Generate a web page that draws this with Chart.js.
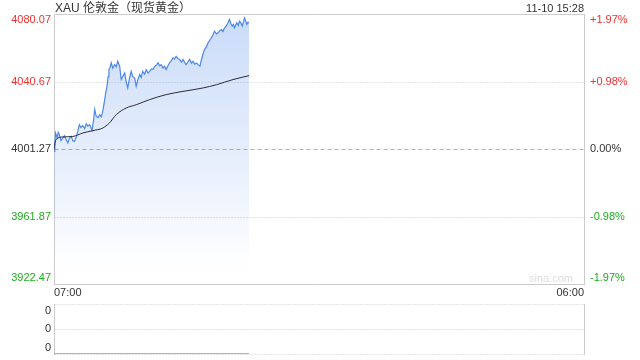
<!DOCTYPE html>
<html>
<head>
<meta charset="utf-8">
<script src="https://cdn.jsdelivr.net/npm/chart.js@4/dist/chart.umd.min.js"></script>
<style>
body { margin: 0; background: #fff; }
#wrap { position: relative; width: 640px; height: 360px; }
#wrap canvas { position: absolute; left: 0; top: 0; }
</style>
</head>
<body>
<div id="wrap">
    <canvas id="priceChart" width="640" height="360"></canvas>
    <canvas id="volChart" width="640" height="360"></canvas>
</div>
<script>
const titleText = 'XAU 伦敦金（现货黄金）';
const stampText = '11-10 15:28';
const timeLabels = ['07:00', '06:00'];
const priceTicks = [4080.07, 4040.67, 4001.27, 3961.87, 3922.47];
const pctTicks = ['+1.97%', '+0.98%', '0.00%', '-0.98%', '-1.97%'];
const volTicks = ['0', '0', '0'];

// minutes after 07:00, 16 per row
const priceMinutes = [
    0, 2, 4, 8, 11, 14, 18, 23, 27, 32, 36, 40, 45, 49, 53, 58,
    62, 66, 70, 75, 80, 84, 88, 93, 96, 99, 103, 106, 110, 115, 119, 123,
    126, 129, 132, 135, 138, 141, 143, 146, 149, 153, 158, 162, 166, 171, 175, 180,
    184, 188, 192, 196, 201, 205, 210, 214, 218, 223, 227, 231, 236, 240, 245, 249,
    254, 258, 262, 267, 271, 275, 279, 284, 288, 292, 297, 301, 306, 310, 314, 318,
    323, 327, 332, 336, 340, 344, 349, 353, 358, 362, 366, 371, 375, 380, 384, 388,
    392, 397, 401, 405, 410, 414, 418, 423, 427, 432, 436, 440, 444, 449, 453, 457,
    461, 464, 467, 470, 473, 476, 480, 483, 487, 490, 493, 496, 499, 502, 505, 508,
];
const prices = [
    3999.8, 4004.5, 4010.6, 4007.9, 4011.0, 4009.6, 4006.2, 4007.7, 4009.0, 4006.7, 4004.8, 4007.5, 4008.6, 4006.0, 4005.7, 4008.3,
    4011.5, 4015.5, 4013.8, 4014.9, 4013.2, 4016.1, 4014.6, 4015.5, 4013.9, 4012.1, 4018.0, 4024.3, 4020.3, 4019.6, 4021.3, 4020.0,
    4022.3, 4026.0, 4030.1, 4034.5, 4037.9, 4043.5, 4047.6, 4049.0, 4051.6, 4048.5, 4050.5, 4049.2, 4052.5, 4049.5, 4041.8, 4044.0,
    4045.7, 4040.5, 4036.9, 4042.0, 4046.6, 4043.5, 4042.8, 4037.9, 4041.5, 4044.7, 4043.0, 4046.6, 4045.0, 4047.6, 4045.6, 4046.6,
    4048.0, 4047.8, 4049.5, 4050.2, 4051.6, 4049.8, 4050.5, 4048.6, 4049.5, 4047.6, 4050.0, 4051.6, 4053.0, 4054.5, 4053.9, 4055.4,
    4053.9, 4053.5, 4052.0, 4053.5, 4051.9, 4050.5, 4052.2, 4053.5, 4051.4, 4052.5, 4050.8, 4051.5, 4050.5, 4049.6, 4053.5, 4056.8,
    4059.3, 4061.0, 4063.2, 4064.6, 4066.2, 4068.0, 4070.0, 4068.4, 4069.1, 4070.5, 4071.0, 4069.8, 4072.0, 4073.2, 4074.9, 4076.9,
    4074.2, 4073.0, 4074.0, 4072.0, 4073.6, 4074.9, 4073.4, 4075.9, 4074.6, 4073.0, 4075.2, 4077.8, 4076.0, 4074.0, 4075.2, 4074.9,
];
const avgMinutes = [0, 5, 23, 49, 75, 101, 127, 144, 162, 188, 214, 249, 292, 336, 388, 423, 466, 508];
const avgPrices = [4001.0, 4006.7, 4008.3, 4008.6, 4010.6, 4012.0, 4013.5, 4016.4, 4021.3, 4025.2, 4027.1, 4030.1, 4033.0,
    4034.9, 4036.9, 4038.8, 4041.8, 4044.1];
const volMinutes = [0, 508];
const volumes = [0, 0];

const fullDay = 1380;
const red = '#f23030';
const green = '#1eab1e';
const dark = '#333333';
const tickColors = [red, red, dark, green, green];
const labelFont = '11px "Liberation Sans", Arial, sans-serif';

function toPoints(xs, ys) {
    return xs.map((x, i) => ({ x: x, y: ys[i] }));
}

function hLine(ctx, x1, x2, y, color, dash) {
    ctx.save();
    ctx.strokeStyle = color;
    ctx.lineWidth = 1;
    ctx.setLineDash(dash);
    ctx.beginPath();
    ctx.moveTo(x1, y);
    ctx.lineTo(x2, y);
    ctx.stroke();
    ctx.restore();
}

function vLine(ctx, x, y1, y2, color) {
    ctx.save();
    ctx.strokeStyle = color;
    ctx.lineWidth = 1;
    ctx.beginPath();
    ctx.moveTo(x, y1);
    ctx.lineTo(x, y2);
    ctx.stroke();
    ctx.restore();
}

const priceFrame = {
    id: 'priceFrame',
    beforeDatasetsDraw(chart) {
        const { ctx, chartArea: a, scales } = chart;
        const l = a.left + 0.5;
        const r = a.right + 0.5;
        hLine(ctx, l, r, Math.round(scales.y.getPixelForValue(priceTicks[1])) + 0.5, '#c8c8c8', [1, 2]);
        hLine(ctx, l, r, Math.round(scales.y.getPixelForValue(priceTicks[3])) + 0.5, '#c8c8c8', [1, 2]);
        hLine(ctx, l, r, Math.round(scales.y.getPixelForValue(priceTicks[2])) + 0.5, '#b0b0b0', [4, 3]);
        hLine(ctx, l, r, a.top + 0.5, '#cccccc', []);
        hLine(ctx, l, r, a.bottom + 0.5, '#cccccc', []);
        vLine(ctx, l, a.top, a.bottom + 1, '#cccccc');
        vLine(ctx, r, a.top, a.bottom + 1, '#cccccc');

        ctx.save();
        ctx.font = labelFont;
        ctx.fillStyle = '#dddddd';
        ctx.textAlign = 'right';
        ctx.textBaseline = 'middle';
        ctx.fillText('sina.com', a.right - 11, a.bottom - 5);
        ctx.restore();
    },
    afterDraw(chart) {
        const { ctx, chartArea: a, scales } = chart;
        ctx.save();
        ctx.font = labelFont;
        priceTicks.forEach((v, i) => {
            let y = scales.y.getPixelForValue(v);
            ctx.textBaseline = 'middle';
            if (i === 0) y += 6;
            if (i === priceTicks.length - 1) y -= 6;
            ctx.fillStyle = tickColors[i];
            ctx.textAlign = 'right';
            ctx.fillText(v.toFixed(2), a.left - 3, y);
            ctx.textAlign = 'left';
            ctx.fillText(pctTicks[i], a.right + 6, y);
        });

        ctx.fillStyle = dark;
        ctx.textBaseline = 'middle';
        ctx.textAlign = 'left';
        ctx.fillText(timeLabels[0], scales.x.getPixelForValue(0), a.bottom + 9);
        ctx.textAlign = 'right';
        ctx.fillText(timeLabels[1], scales.x.getPixelForValue(fullDay), a.bottom + 9);
        ctx.fillText(stampText, a.right, 9);

        ctx.font = '12px "Liberation Sans", Arial, "Noto Sans CJK SC", sans-serif';
        ctx.textAlign = 'left';
        ctx.fillText(titleText, a.left + 1, 9);
        ctx.restore();
    },
};

const volFrame = {
    id: 'volFrame',
    beforeDatasetsDraw(chart) {
        const { ctx, chartArea: a } = chart;
        const l = a.left + 0.5;
        const r = a.right + 0.5;
        const mid = Math.round((a.top + a.bottom) / 2) + 0.5;
        hLine(ctx, l, r, a.top + 0.5, '#c8c8c8', [1, 2]);
        hLine(ctx, l, r, mid, '#c8c8c8', [1, 2]);
        hLine(ctx, l, r, a.bottom + 0.5, '#c8c8c8', [1, 2]);
        vLine(ctx, l, a.top, a.bottom + 1, '#cccccc');
        vLine(ctx, r, a.top, a.bottom + 1, '#cccccc');
    },
    afterDraw(chart) {
        const { ctx, chartArea: a } = chart;
        const ys = [a.top + 7, (a.top + a.bottom) / 2, a.bottom - 6];
        ctx.save();
        ctx.font = labelFont;
        ctx.fillStyle = dark;
        ctx.textAlign = 'right';
        ctx.textBaseline = 'middle';
        volTicks.forEach((t, i) => ctx.fillText(t, a.left - 3, ys[i]));
        ctx.restore();
    },
};

const priceCtx = document.getElementById('priceChart').getContext('2d');
const volCtx = document.getElementById('volChart').getContext('2d');

new Chart(priceCtx, {
    type: 'line',
    data: {
        datasets: [
            {
                data: toPoints(avgMinutes, avgPrices),
                borderColor: '#2b2b33',
                borderWidth: 1,
                cubicInterpolationMode: 'monotone',
                fill: false,
            },
            {
                data: toPoints(priceMinutes, prices),
                borderColor: '#4d87ea',
                borderWidth: 1.2,
                fill: 'start',
                backgroundColor: (c) => {
                    const a = c.chart.chartArea;
                    if (!a) return 'rgba(77,135,234,0.25)';
                    const g = c.chart.ctx.createLinearGradient(0, a.top, 0, a.bottom);
                    g.addColorStop(0, 'rgba(77,135,234,0.30)');
                    g.addColorStop(0.55, 'rgba(77,135,234,0.13)');
                    g.addColorStop(0.95, 'rgba(77,135,234,0.0)');
                    return g;
                },
            },
        ],
    },
    options: {
        responsive: false,
        animation: false,
        devicePixelRatio: 1,
        layout: { padding: { left: 54, top: 14, right: 56, bottom: 76 } },
        elements: { point: { radius: 0 }, line: { tension: 0 } },
        plugins: { legend: { display: false }, tooltip: { enabled: false } },
        scales: {
            x: { type: 'linear', min: 0, max: fullDay, display: false },
            y: { min: priceTicks[4], max: priceTicks[0], display: false },
        },
    },
    plugins: [priceFrame],
});

new Chart(volCtx, {
    type: 'line',
    data: {
        datasets: [
            {
                data: toPoints(volMinutes, volumes),
                borderColor: '#666666',
                borderWidth: 1,
                fill: false,
            },
        ],
    },
    options: {
        responsive: false,
        animation: false,
        devicePixelRatio: 1,
        layout: { padding: { left: 54, top: 304, right: 56, bottom: 6 } },
        elements: { point: { radius: 0 } },
        plugins: { legend: { display: false }, tooltip: { enabled: false } },
        scales: {
            x: { type: 'linear', min: 0, max: fullDay, display: false },
            y: { min: 0, max: 2, display: false },
        },
    },
    plugins: [volFrame],
});
</script>
</body>
</html>
